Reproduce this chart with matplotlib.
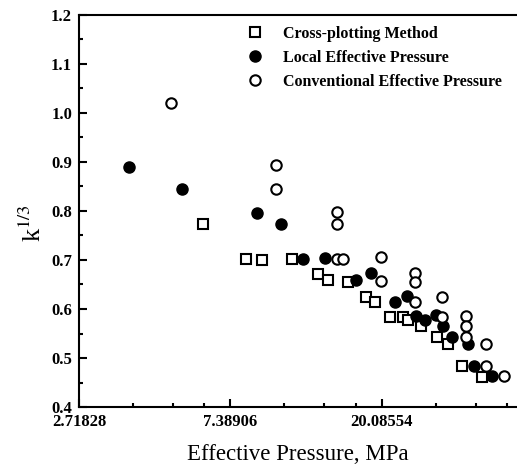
import numpy as np
import matplotlib
matplotlib.use("Agg")
from matplotlib import pyplot as plt
from matplotlib.ticker import FixedLocator, FixedFormatter

plt.rcParams['font.family'] = ['Liberation Serif', 'DejaVu Serif']
plt.rcParams['mathtext.fontset'] = 'stix'

# cross-plotting method
cp_p = [6.15, 8.22, 9.08, 11.1, 13.2, 14.08, 16.07, 18.16, 19.2, 21.2, 23.1, 23.9,
        26.1, 28.9, 31.1, 34.1, 38.9]
cp_k = [0.773, 0.703, 0.701, 0.703, 0.671, 0.660, 0.656, 0.625, 0.615, 0.583, 0.584, 0.578,
        0.565, 0.543, 0.528, 0.484, 0.462]

# local effective pressure
lep_p = [3.79, 5.36, 8.82, 10.34, 11.95, 13.79, 16.9, 18.77, 22.0, 23.8, 25.2, 26.7,
         28.7, 30.2, 31.9, 35.5, 36.9, 41.6]
lep_k = [0.890, 0.844, 0.795, 0.773, 0.703, 0.705, 0.659, 0.673, 0.615, 0.626, 0.586, 0.578,
         0.588, 0.565, 0.542, 0.528, 0.484, 0.463]

# conventional effective pressure
cep_p = [5, 10, 10, 15, 15, 15, 15.6, 20, 20, 25, 25, 25, 30, 30, 35, 35, 35, 40, 40, 45]
cep_k = [1.020, 0.894, 0.845, 0.797, 0.773, 0.703, 0.703, 0.707, 0.658, 0.674, 0.656, 0.615,
         0.624, 0.583, 0.586, 0.565, 0.542, 0.529, 0.484, 0.463]

xticklabels = ["2.71828", "7.38906", "20.08554"]
labels = ["Cross-plotting Method", "Local Effective Pressure", "Conventional Effective Pressure"]

fig = plt.figure(figsize=(5.17, 4.71), dpi=100)
ax = fig.add_axes([79/517, 64/471, 454/517, 392/471])

ax.plot(cp_p, cp_k, ls='none', marker='s', ms=7, mfc='white', mec='black', mew=1.5, label=labels[0])
ax.plot(lep_p, lep_k, ls='none', marker='o', ms=8, mfc='black', mec='black', mew=1, label=labels[1])
ax.plot(cep_p, cep_k, ls='none', marker='o', ms=7.5, mfc='white', mec='black', mew=1.5, label=labels[2])

ax.set_xscale('log', base=np.e)
ax.set_xlim(np.e, np.e**4)
ax.set_ylim(0.4, 1.2)

major = np.exp([1, 2, 3])
minor = [np.exp(n) * (1 + k * (np.e - 1) / 4) for n in range(1, 4) for k in range(1, 4)]
ax.xaxis.set_major_locator(FixedLocator(major))
ax.xaxis.set_major_formatter(FixedFormatter(xticklabels))
ax.xaxis.set_minor_locator(FixedLocator(minor))
ax.xaxis.set_minor_formatter(FixedFormatter([]))
ax.set_yticks(np.arange(0.4, 1.21, 0.1))
ax.set_yticks(np.arange(0.45, 1.2, 0.1), minor=True)
ax.yaxis.set_major_formatter(matplotlib.ticker.FormatStrFormatter('%.1f'))

ax.tick_params(which='both', direction='in', top=False, right=False, width=1.5,
               labelsize=12, pad=5)
ax.tick_params(which='major', length=6)
ax.tick_params(which='minor', length=3)
for lab in ax.get_xticklabels() + ax.get_yticklabels():
    lab.set_fontweight('bold')
for s in ax.spines.values():
    s.set_linewidth(1.5)

ax.set_xlabel("Effective Pressure, MPa", fontsize=16.5)
ax.xaxis.set_label_coords(0.482, -0.095)
ax.set_ylabel(r"k$^{\mathrm{1/3}}$", fontsize=19)
ax.yaxis.set_label_coords(-0.072, 0.47)

ax.legend(loc='upper left', bbox_to_anchor=(239/517, 1 - 26/471), bbox_transform=fig.transFigure,
          frameon=False, prop={'size': 11.5, 'weight': 'bold'}, handletextpad=0.75,
          labelspacing=0.5, borderaxespad=0, borderpad=0)

fig.savefig("out.png", dpi=100)
